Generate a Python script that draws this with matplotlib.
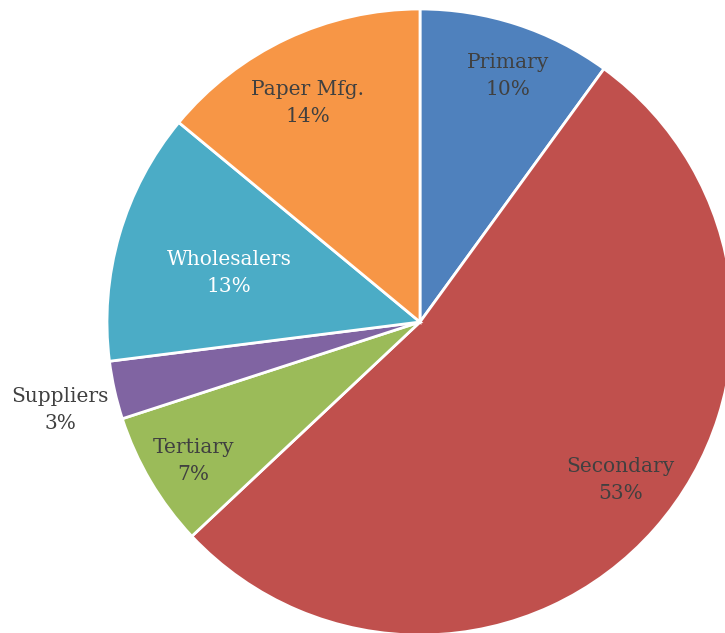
import numpy as np
import matplotlib
matplotlib.use("Agg")
import matplotlib.pyplot as plt

# Share of each stage, clockwise from 12 o'clock
labels = ["Primary", "Secondary", "Tertiary", "Suppliers", "Wholesalers", "Paper Mfg."]
shares = [10, 53, 7, 3, 13, 14]
colors = ["#4F81BD", "#C0504D", "#9BBB59", "#8064A2", "#4BACC6", "#F79646"]
text_colors = ["#404040", "#404040", "#404040", "#404040", "white", "#404040"]
# label placement: fraction of the radius, and a small turn (degrees) off the wedge middle
label_dist = [0.835, 0.815, 0.85, 1.184, 0.63, 0.786]
label_turn = [-1.7, 3.1, 0.9, 1.1, 1.8, 1.9]

W, H = 725, 633
fig = plt.figure(figsize=(W / 100, H / 100), dpi=100)
ax = fig.add_axes([0, 0, 1, 1])

cx, cy, r = 420, H - 322, 313
wedges, _ = ax.pie(shares, colors=colors, startangle=90, counterclock=False,
                   center=(cx, cy), radius=r,
                   wedgeprops=dict(edgecolor="white", linewidth=2.0))
ax.set_xlim(0, W)
ax.set_ylim(0, H)
ax.set_aspect("equal")
ax.axis("off")

for w, lab, val, tc, d, t in zip(wedges, labels, shares, text_colors, label_dist, label_turn):
    mid = np.deg2rad((w.theta1 + w.theta2) / 2 + t)
    x = cx + d * r * np.cos(mid)
    y = cy + d * r * np.sin(mid)
    ax.text(x, y, f"{lab}\n{val}%", ha="center", va="center", color=tc,
            fontsize=14.5, family="DejaVu Serif", linespacing=1.5)

fig.savefig("out.png", dpi=100)
